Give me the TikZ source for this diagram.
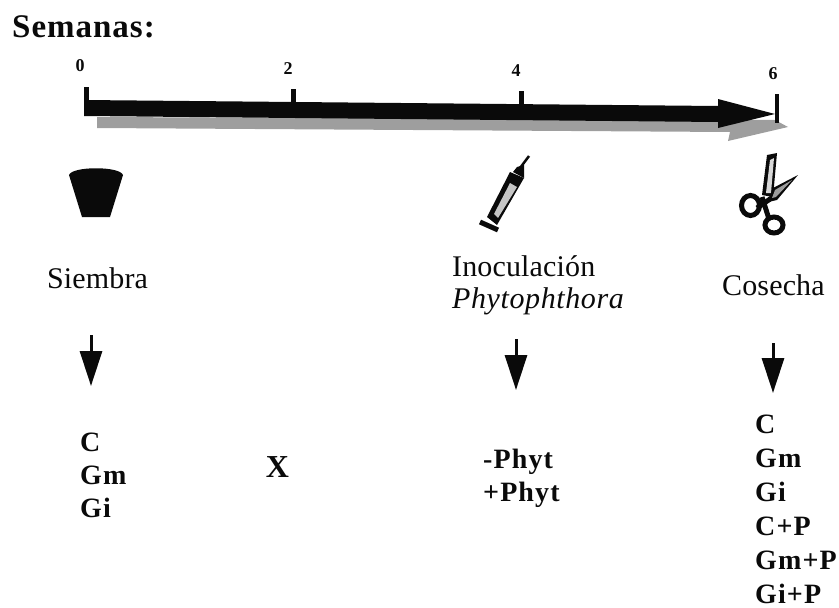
\documentclass[tikz,border=0pt]{standalone}
\usepackage{fontspec}
\setmainfont{Liberation Serif}
\usepackage{tikz}
\usetikzlibrary{arrows.meta,positioning}
\definecolor{figBlack}{HTML}{0A0A0A}
\definecolor{figGray}{HTML}{9E9E9E}
\begin{document}
\begin{tikzpicture}[x=1pt,y=-1pt,
  heading/.style={font=\fontsize{33}{35}\selectfont\bfseries\addfontfeature{LetterSpace=3}, text=figBlack, inner sep=0pt},
  weeknum/.style={font=\fontsize{18}{20}\selectfont\bfseries, text=figBlack, inner sep=0pt},
  stage/.style={font=\fontsize{30}{32}\selectfont\addfontfeature{LetterSpace=0.5}, text=figBlack, inner sep=0pt, align=left},
  group/.style={font=\fontsize{28}{33}\selectfont\bfseries\addfontfeature{LetterSpace=4}, text=figBlack, inner sep=0pt, align=left, anchor=north west},
  weektick/.style={fill=figBlack},
  downarrow/.style={-{Triangle[length=35pt,width=22pt]}, line width=3pt, figBlack},
  handle/.style={draw=figBlack, line width=5pt},
]
\useasboundingbox (0,0) rectangle (839,608);

% === Heading ===
\node[heading, anchor=base west] (semanas) at (12,37) {Semanas:};

% === Time arrow ===
\fill[figGray] (97,117) -- (775,120) -- (788,127) -- (728,141) -- (730,132) -- (97,128) -- cycle;
\fill[figBlack] (84,100) -- (718,106) -- (718,99) -- (775,114) -- (718,128) -- (718,122) -- (84,116) -- cycle;
\fill[weektick] (84,87) rectangle (89,116);
\fill[weektick] (291,89) rectangle (296,118);
\fill[weektick] (519,91) rectangle (524,120);
\fill[weektick] (775,94) rectangle (779,123);
\node[weeknum] (w0) at (80,66) {0};
\node[weeknum] (w2) at (288,69) {2};
\node[weeknum] (w4) at (516,71) {4};
\node[weeknum] (w6) at (773,74) {6};

% === Pot ===
\fill[figBlack] (69,175) .. controls (72,166) and (120,166) .. (123,175)
  -- (110,217) -- (82,217) -- cycle;

% === Syringe ===
\draw[figBlack, line width=5pt] (480,222) -- (498,230);
\fill[figBlack] (487,217) -- (510,172) -- (524,178) -- (497,225) -- cycle;
\fill[figGray!60] (494,214) -- (510,183) -- (517,187) -- (498,218) -- cycle;
\fill[figBlack] (513,172) -- (517,167) -- (524,165) -- (524,178) -- cycle;
\draw[figBlack, line width=2.5pt] (520,168) -- (529,156);

% === Scissors ===
\draw[figBlack, line width=5pt] (762,197) -- (769,219);
\draw[figBlack, line width=5pt] (773,197) -- (757,208);
\fill[figBlack] (767,155) -- (777,153) -- (773,197) -- (762,195) -- cycle;
\fill[figGray!40] (770,160) -- (774,158) -- (771,193) -- (766,193) -- cycle;
\fill[figBlack] (798,175) -- (773,188) -- (768,202) -- (777,200) -- cycle;
\fill[figGray] (792,180) -- (775,190) -- (772,198) -- (776,197) -- cycle;
\draw[handle] (750.5,205.5) ellipse [x radius=9, y radius=10];
\draw[handle] (774,225) ellipse [x radius=9, y radius=8];

% === Stages ===
\node[stage, anchor=base west] (siembra) at (47,288) {Siembra};
\node[stage, anchor=base west] (inoc) at (452,276) {Inoculación};
\node[stage, anchor=base west] (phyto) at (452,308) {\textit{\addfontfeature{LetterSpace=2}Phytophthora}};
\node[stage, anchor=base west] (cosecha) at (722,295) {Cosecha};

% === Arrows down ===
\coordinate (a1s) at (91,335);
\coordinate (a1e) at (91,386);
\coordinate (a2s) at (516,339);
\coordinate (a2e) at (516,390);
\coordinate (a3s) at (773,343);
\coordinate (a3e) at (773,393);
\draw[downarrow] (a1s) -- (a1e);
\draw[downarrow] (a2s) -- (a2e);
\draw[downarrow] (a3s) -- (a3e);

% === Groups ===
\node[group] (g1) at (80,433) {C\\Gm\\Gi};
\node[font=\fontsize{32}{34}\selectfont\bfseries, text=figBlack, inner sep=0pt] (cross) at (277.5,467) {X};
\node[group] (g2) at (483,449) {-Phyt\\+Phyt};
\node[group] (g3) at (755,415) {C\\[1pt]Gm\\[1pt]Gi\\[1pt]C+P\\[1pt]Gm+P\\[1pt]Gi+P};
\end{tikzpicture}
\end{document}
